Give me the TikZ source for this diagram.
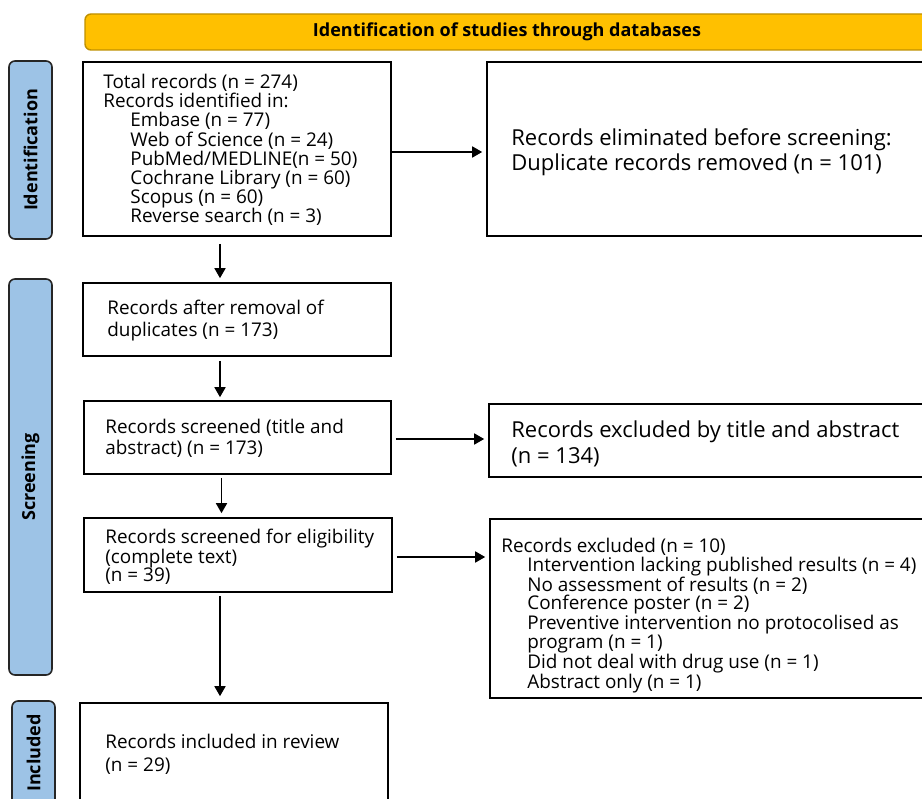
\documentclass[tikz,border=0pt]{standalone}
\usepackage{fontspec}
\setmainfont{Open Sans}
\usetikzlibrary{arrows.meta,calc}
\definecolor{bannerfill}{HTML}{FFC000}
\definecolor{bannerdraw}{HTML}{BF9000}
\definecolor{labfill}{HTML}{9DC3E6}
\definecolor{labdraw}{HTML}{262626}
\begin{document}
\begin{tikzpicture}[x=1pt,y=-1pt,
  box/.style={draw=black, line width=1.6pt, inner sep=0pt, anchor=center},
  txt/.style={inner sep=0pt, align=left, anchor=west},
  smalltxt/.style={txt, font=\fontsize{18.9}{#1}\selectfont},
  bigtxt/.style={txt, font=\fontsize{22}{#1}\selectfont},
  banner/.style={draw=bannerdraw, fill=bannerfill, line width=1.4pt, rounded corners=6pt, inner sep=0pt, font=\fontsize{18}{22}\selectfont\bfseries},
  lab/.style={draw=labdraw, fill=labfill, line width=1.6pt, rounded corners=6pt, inner sep=0pt, rotate=90, minimum height=43pt, font=\fontsize{18}{22}\selectfont\bfseries},
  arr/.style={line width=1.6pt, -{Triangle[length=10pt,width=11pt]}}
]
\clip (0,0) rectangle (922,799);
% banner and stage labels
\node[banner, minimum width=844pt, minimum height=36pt] (ban) at (507,32) {Identification of studies through databases};
\node[lab, minimum width=178pt] (lid) at (30.5,150) {Identification};
\node[lab, minimum width=396pt] (lsc) at (30.5,477) {Screening};
\node[lab, minimum width=104pt] (lin) at (33.5,753) {Included};
% boxes
\node[box, minimum width=308pt, minimum height=174pt] (b1) at (237,149) {};
\node[box, minimum width=453pt, minimum height=174pt] (dup) at (713.5,149) {};
\node[box, minimum width=308pt, minimum height=73pt] (b2) at (237,319.5) {};
\node[box, minimum width=307pt, minimum height=73pt] (b3) at (237.5,437.5) {};
\node[box, minimum width=451pt, minimum height=73pt] (ex1) at (714.5,440.5) {};
\node[box, minimum width=308pt, minimum height=74pt] (b4) at (238,555) {};
\node[box, minimum width=450pt, minimum height=179pt] (ex2) at (715,608.5) {};
\node[box, minimum width=308pt, minimum height=112pt] (b5) at (234,759) {};
% texts
\node[smalltxt=19.14] (t1) at ($(b1.west)+(21,1)$) {Total records (n = 274)\\Records identified in:\\
\hspace*{27pt}Embase (n = 77)\\\hspace*{27pt}Web of Science (n = 24)\\\hspace*{27pt}PubMed/MEDLINE(n = 50)\\
\hspace*{27pt}Cochrane Library (n = 60)\\\hspace*{27pt}Scopus (n = 60)\\\hspace*{27pt}Reverse search (n = 3)};
\node[bigtxt=25] (tdup) at ($(dup.west)+(25,2.8)$) {Records eliminated before screening:\\Duplicate records removed (n = 101)};
\node[smalltxt=22] (t2) at ($(b2.west)+(25,1.5)$) {Records after removal of\\duplicates (n = 173)};
\node[smalltxt=21] (t3) at ($(b3.west)+(22,1)$) {Records screened (title and\\abstract) (n = 173)};
\node[bigtxt=26] (tex1) at ($(ex1.west)+(23,3.8)$) {Records excluded by title and abstract\\(n = 134)};
\node[smalltxt=18.3] (t4) at ($(b4.west)+(22,2)$) {Records screened for eligibility\\(complete text)\\(n = 39)};
\node[smalltxt=18.8] (tex2) at ($(ex2.west)+(12,7)$) {Records excluded (n = 10)\\
\hspace*{26pt}Intervention lacking published results (n = 4)\\\hspace*{26pt}No assessment of results (n = 2)\\
\hspace*{26pt}Conference poster (n = 2)\\\hspace*{26pt}Preventive intervention no protocolised as\\
\hspace*{26pt}program (n = 1)\\\hspace*{26pt}Did not deal with drug use (n = 1)\\\hspace*{26pt}Abstract only (n = 1)};
\node[smalltxt=23] (t5) at ($(b5.west)+(26,-4.5)$) {Records included in review\\(n = 29)};
% connectors
\coordinate (ax) at (220,0);
\coordinate (ax2) at (221.5,0);
\coordinate (c1) at ($(b1.east)+(0,3)$);
\coordinate (c3) at ($(b3.east)+(0,1.5)$);
\coordinate (c4) at ($(b4.east)+(0,2)$);
\draw[arr, shorten <=7pt, shorten >=4pt] (b1.south -| ax) -- (b2.north -| ax);
\draw[arr, shorten <=4pt, shorten >=3pt] (b2.south -| ax) -- (b3.north -| ax);
\draw[arr, shorten <=3pt, shorten >=4pt] (b3.south -| ax2) -- (b4.north -| ax2);
\draw[arr, shorten <=3pt, shorten >=6pt] (b4.south -| ax) -- (b5.north -| ax);
\draw[arr, shorten >=4pt] (c1) -- (c1 -| dup.west);
\draw[arr, shorten <=4pt, shorten >=4pt] (c3) -- (c3 -| ex1.west);
\draw[arr, shorten <=4pt, shorten >=4pt] (c4) -- (c4 -| ex2.west);
\end{tikzpicture}
\end{document}
